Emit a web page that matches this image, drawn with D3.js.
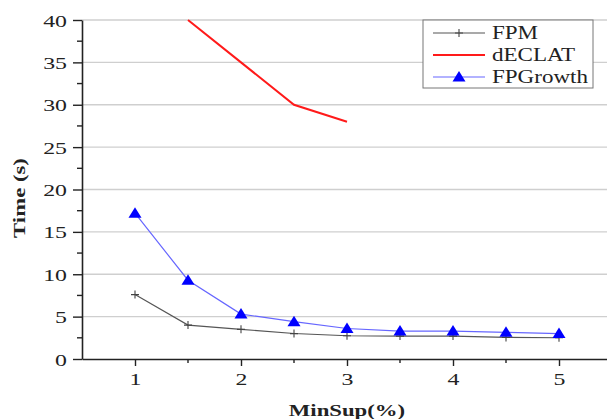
<!DOCTYPE html>
<html>
<head>
<meta charset="utf-8">
<script src="https://cdn.jsdelivr.net/npm/d3@7"></script>
<style>
  body { margin: 0; background: #fff; }
  svg { display: block; }
  text { font-family: "Liberation Serif", "Times New Roman", serif; fill: #222; }
</style>
</head>
<body>
<svg id="chart" width="607" height="419"></svg>
<script>
// MinSup values (%)
const minSup = [1, 1.5, 2, 2.5, 3, 3.5, 4, 4.5, 5];
// Run times (s)
const fpm = [7.6, 4.0, 3.5, 3.0, 2.75, 2.7, 2.7, 2.55, 2.5];
const declat = [null, 40, 35, 30, 28, null, null, null, null];
const fpGrowth = [17.2, 9.3, 5.3, 4.4, 3.6, 3.3, 3.3, 3.15, 3.0];
const seriesNames = ["FPM", "dECLAT", "FPGrowth"];
const xTicks = [1, 2, 3, 4, 5];
const yTicks = [0, 5, 10, 15, 20, 25, 30, 35, 40];

const svg = d3.select("#chart");
const plotLeft = 82, plotTop = 20, plotBottom = 359, plotRight = 612;

const x = d3.scaleLinear().domain([0.5, 5.5]).range([plotLeft, plotRight]);
const y = d3.scaleLinear().domain([0, 40]).range([plotBottom, plotTop]);

// horizontal grid
svg.append("g")
  .selectAll("line")
  .data(yTicks.filter(v => v > 0))
  .join("line")
  .attr("x1", plotLeft).attr("x2", 607)
  .attr("y1", d => y(d)).attr("y2", d => y(d))
  .attr("stroke", "#cfcfcf").attr("stroke-width", 1.4);

// clip for series
svg.append("clipPath").attr("id", "plotClip")
  .append("rect").attr("x", plotLeft).attr("y", plotTop - 1)
  .attr("width", plotRight - plotLeft).attr("height", plotBottom - plotTop + 1);

const plot = svg.append("g").attr("clip-path", "url(#plotClip)");

const line = vals => d3.line()
  .defined((d, i) => vals[i] != null)
  .x((d, i) => x(minSup[i]))
  .y((d, i) => y(vals[i]))(minSup);

// FPM
plot.append("path").attr("d", line(fpm))
  .attr("fill", "none").attr("stroke", "#555").attr("stroke-width", 1.1);
const plusPath = "M-4,0H4M0,-4V4";
plot.append("g").selectAll("path")
  .data(minSup.map((m, i) => [m, fpm[i]]))
  .join("path")
  .attr("transform", d => `translate(${x(d[0])},${y(d[1])})`)
  .attr("d", plusPath)
  .attr("stroke", "#444").attr("stroke-width", 1.1).attr("fill", "none");

// dECLAT
plot.append("path").attr("d", line(declat))
  .attr("fill", "none").attr("stroke", "#ff1a1a").attr("stroke-width", 2);

// FPGrowth
plot.append("path").attr("d", line(fpGrowth))
  .attr("fill", "none").attr("stroke", "#6666ff").attr("stroke-width", 1.2);
const tri = "M0,-6L6.5,4.5L-6.5,4.5Z";
svg.append("g").selectAll("path")
  .data(minSup.map((m, i) => [m, fpGrowth[i]]))
  .join("path")
  .attr("transform", d => `translate(${x(d[0])},${y(d[1])})`)
  .attr("d", tri)
  .attr("fill", "#0000ff");

// axes
const xAxis = svg.append("g").attr("transform", `translate(0,${plotBottom})`)
  .call(d3.axisBottom(x).tickValues(xTicks).tickFormat(d3.format("d")).tickSize(7).tickSizeOuter(0));
xAxis.select(".domain").attr("stroke", "#222").attr("stroke-width", 1.6);
xAxis.selectAll(".tick line").attr("stroke", "#222").attr("stroke-width", 1.4);
xAxis.selectAll(".tick text")
  .attr("y", 0).attr("dy", 0)
  .attr("transform", "translate(0,26) scale(1.4,1)")
  .style("font-size", "17px")
  .style("font-family", "Liberation Serif").attr("fill", "#222");
svg.append("g").attr("transform", `translate(0,${plotBottom})`)
  .selectAll("line").data([1.5, 2.5, 3.5, 4.5]).join("line")
  .attr("x1", d => x(d)).attr("x2", d => x(d)).attr("y1", 0).attr("y2", 4)
  .attr("stroke", "#222").attr("stroke-width", 1.4);

const yAxis = svg.append("g").attr("transform", `translate(${plotLeft},0)`)
  .call(d3.axisLeft(y).tickValues(yTicks).tickFormat(d3.format("d")).tickSize(9).tickSizeOuter(0));
yAxis.select(".domain").attr("stroke", "#222").attr("stroke-width", 1.6);
yAxis.selectAll(".tick line").attr("stroke", "#222").attr("stroke-width", 1.4);
yAxis.selectAll(".tick text")
  .attr("x", 0).attr("dy", 0)
  .attr("transform", "translate(-15,6) scale(1.4,1)")
  .style("font-size", "17px")
  .style("font-family", "Liberation Serif").attr("fill", "#222");
svg.append("g").attr("transform", `translate(${plotLeft},0)`)
  .selectAll("line").data(d3.range(2.5, 40, 5)).join("line")
  .attr("x1", -5).attr("x2", 0).attr("y1", d => y(d)).attr("y2", d => y(d))
  .attr("stroke", "#222").attr("stroke-width", 1.4);

// axis titles
svg.append("text")
  .attr("transform", "translate(347,416) scale(1.34,1)")
  .attr("text-anchor", "middle")
  .style("font-size", "17px").style("font-weight", "bold")
  .text("MinSup(%)");
svg.append("text")
  .attr("transform", "translate(25,198) rotate(-90) scale(1.34,1)")
  .attr("text-anchor", "middle")
  .style("font-size", "17px").style("font-weight", "bold")
  .text("Time (s)");

// legend
const lg = svg.append("g").attr("transform", "translate(423,20)");
lg.append("rect").attr("width", 170).attr("height", 68)
  .attr("fill", "#fff").attr("stroke", "#777").attr("stroke-width", 1);
const styles = [
  { stroke: "#555", w: 1.1, marker: "plus" },
  { stroke: "#ff1a1a", w: 2, marker: null },
  { stroke: "#6666ff", w: 1.2, marker: "tri" }
];
seriesNames.forEach((name, i) => {
  const cy = 13 + i * 22;
  lg.append("line").attr("x1", 10).attr("x2", 62).attr("y1", cy).attr("y2", cy)
    .attr("stroke", styles[i].stroke).attr("stroke-width", styles[i].w);
  if (styles[i].marker === "plus") {
    lg.append("path").attr("transform", `translate(36,${cy})`).attr("d", plusPath)
      .attr("stroke", "#444").attr("stroke-width", 1.1);
  } else if (styles[i].marker === "tri") {
    lg.append("path").attr("transform", `translate(36,${cy})`).attr("d", tri).attr("fill", "#0000ff");
  }
  lg.append("text").attr("transform", `translate(69,${cy + 6}) scale(1.28,1)`)
    .style("font-size", "18px").text(name);
});
</script>
</body>
</html>
